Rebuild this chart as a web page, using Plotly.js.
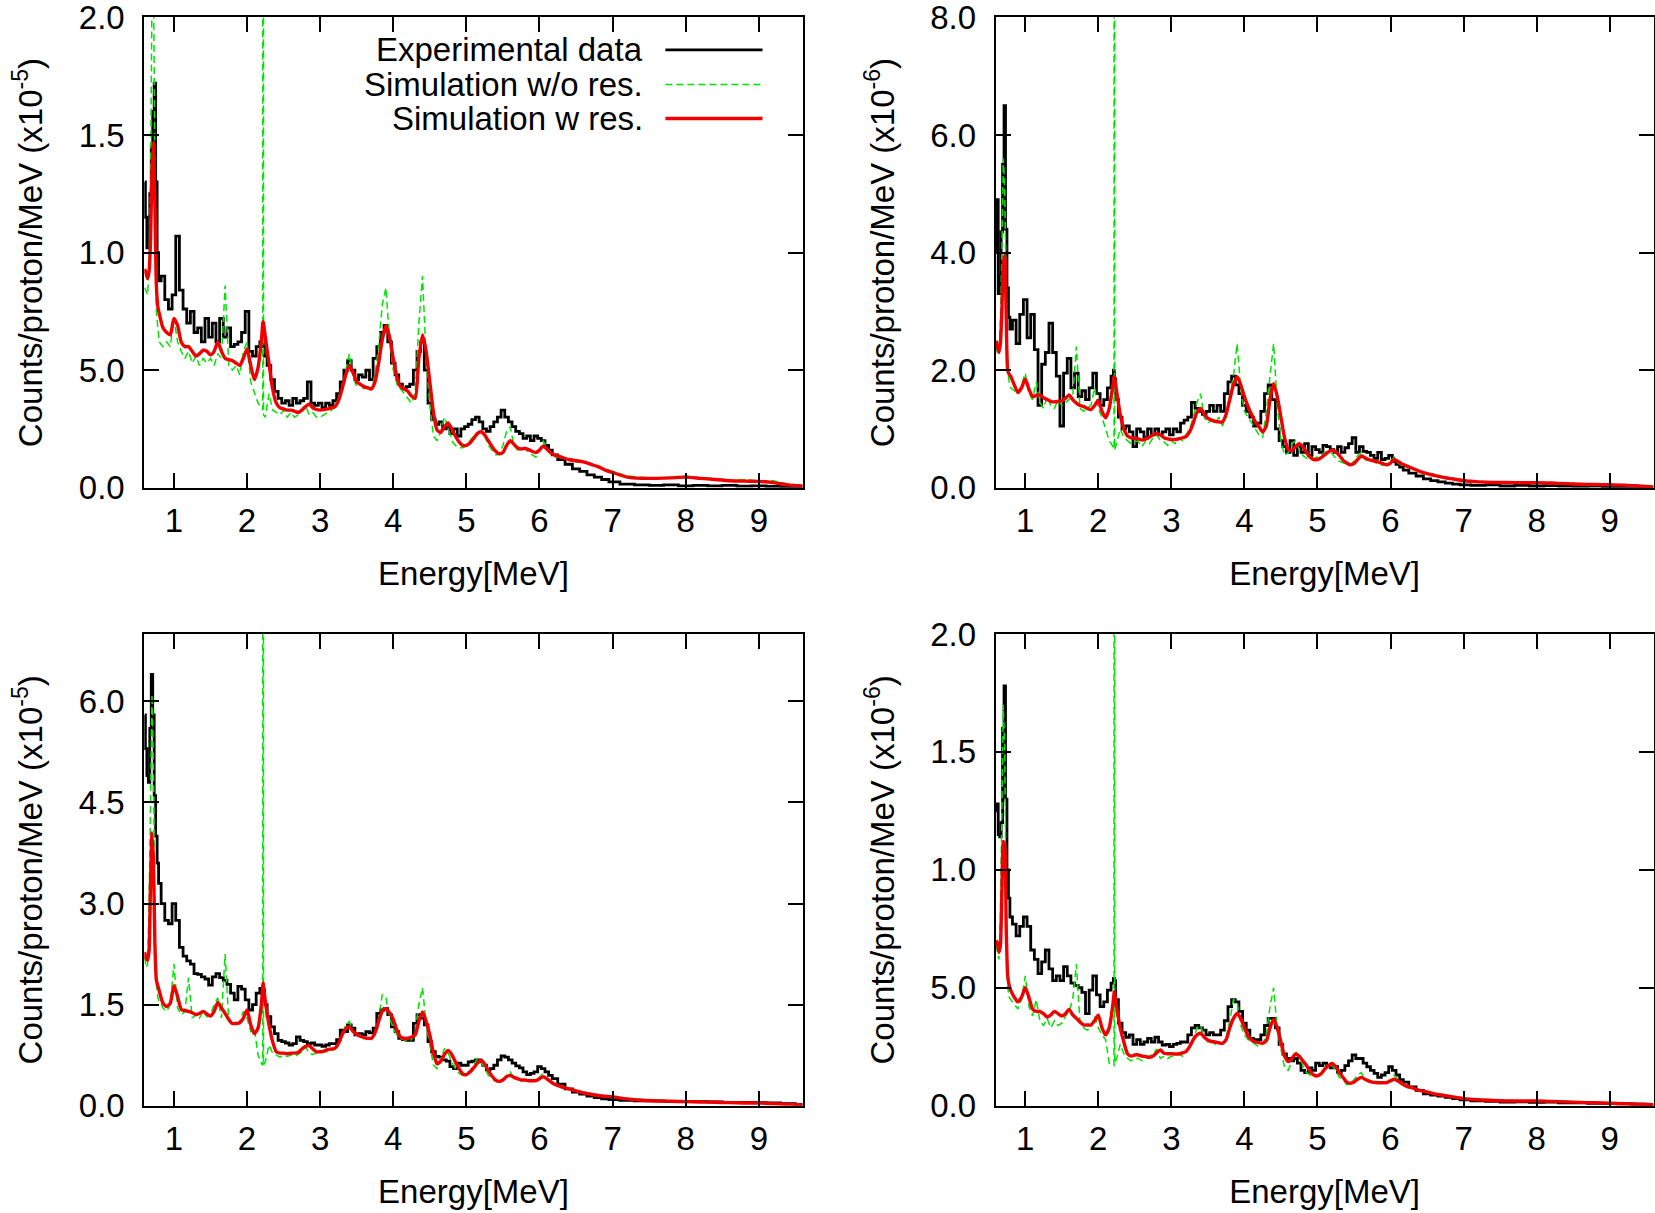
<!DOCTYPE html>
<html>
<head>
<meta charset="utf-8">
<script src="https://cdn.plot.ly/plotly-3.0.1.min.js"></script>
<style>
	html, body {margin: 0; padding: 0; background: #fff;}
	#chart {width: 1655px; height: 1213px;}
</style>
</head>
<body>
<div id="chart"></div>
<script>
// gamma energy bins (MeV), shared by every spectrum below
const energy = [
	0.60,0.62,0.64,0.66,0.68,0.70,0.72,0.74,0.76,0.78,0.80,
	0.85,0.90,0.95,1.00,1.05,1.10,1.15,1.20,1.25,1.30,
	1.35,1.40,1.45,1.50,1.55,1.60,1.65,1.70,1.75,1.80,
	1.85,1.90,1.95,2.00,2.05,2.10,2.15,2.20,2.215,2.22,2.225,2.25,2.30,
	2.35,2.40,2.45,2.50,2.55,2.60,2.65,2.70,2.75,2.80,
	2.85,2.90,2.95,3.00,3.05,3.10,3.15,3.20,3.25,3.30,
	3.35,3.40,3.45,3.50,3.55,3.60,3.65,3.70,3.75,3.80,
	3.85,3.90,3.95,4.00,4.05,4.10,4.15,4.20,4.25,4.30,
	4.35,4.40,4.45,4.50,4.55,4.60,4.65,4.70,4.75,4.80,
	4.85,4.90,4.95,5.00,5.05,5.10,5.15,5.20,5.25,5.30,
	5.35,5.40,5.45,5.50,5.55,5.60,5.65,5.70,5.75,5.80,
	5.85,5.90,5.95,6.00,6.05,6.10,6.15,6.20,
	6.3,6.4,6.5,6.6,6.7,6.8,6.9,7.0,
	7.2,7.4,7.6,7.8,8.0,8.2,8.4,8.6,8.8,9.0,9.2,9.4,9.6
];

// top left panel, units of 1e-5
const tl_exp = [
	1.30,1.15,1.02,1.05,1.25,1.45,1.60,1.72,1.30,1.00,0.88,
	0.90,0.80,0.76,0.82,1.07,0.84,0.76,0.70,0.75,0.66,
	0.68,0.62,0.72,0.64,0.70,0.62,0.72,0.64,0.68,0.60,
	0.61,0.62,0.66,0.75,0.58,0.56,0.60,0.62,0.62,0.62,0.60,0.56,0.52,
	0.46,0.41,0.38,0.36,0.37,0.35,0.38,0.36,0.37,0.38,
	0.45,0.36,0.35,0.36,0.34,0.36,0.35,0.37,0.40,0.45,
	0.50,0.54,0.50,0.46,0.48,0.47,0.50,0.46,0.55,0.60,
	0.66,0.69,0.62,0.53,0.48,0.44,0.42,0.43,0.44,0.50,
	0.58,0.62,0.50,0.36,0.29,0.27,0.28,0.25,0.26,0.23,
	0.25,0.22,0.25,0.26,0.27,0.29,0.30,0.28,0.25,0.24,
	0.26,0.28,0.30,0.33,0.30,0.28,0.26,0.24,0.23,0.21,
	0.22,0.20,0.22,0.21,0.20,0.18,0.16,0.14,
	0.12,0.10,0.08,0.07,0.055,0.045,0.035,0.025,
	0.015,0.012,0.01,0.012,0.008,0.01,0.008,0.01,0.007,0.008,0.006,0.005,0.004
];
const tl_sim_no_res = [
	0.85,0.83,0.82,0.95,1.30,2.10,2.20,1.30,0.75,0.68,0.62,
	0.60,0.62,0.60,0.72,0.62,0.58,0.55,0.58,0.53,0.56,
	0.52,0.55,0.53,0.55,0.52,0.57,0.55,0.86,0.52,0.50,
	0.52,0.48,0.58,0.62,0.45,0.40,0.36,0.34,0.33,100,0.31,0.30,0.40,
	0.33,0.32,0.31,0.33,0.30,0.32,0.30,0.31,0.33,0.35,
	0.31,0.32,0.30,0.30,0.31,0.32,0.33,0.34,0.38,0.42,
	0.50,0.57,0.47,0.43,0.44,0.42,0.43,0.42,0.48,0.60,
	0.78,0.85,0.62,0.50,0.44,0.42,0.40,0.38,0.36,0.40,
	0.70,0.90,0.55,0.35,0.22,0.20,0.24,0.30,0.26,0.20,
	0.18,0.17,0.17,0.18,0.20,0.22,0.23,0.24,0.22,0.18,
	0.16,0.14,0.14,0.18,0.24,0.26,0.18,0.16,0.16,0.17,
	0.15,0.14,0.13,0.16,0.20,0.17,0.15,0.13,
	0.13,0.12,0.11,0.11,0.10,0.09,0.08,0.07,
	0.05,0.045,0.04,0.045,0.05,0.04,0.04,0.03,0.035,0.03,0.03,0.015,0.01
];
const tl_sim_res = [
	0.93,0.91,0.89,0.92,1.05,1.35,1.47,1.20,0.86,0.77,0.74,
	0.68,0.66,0.65,0.72,0.69,0.62,0.60,0.60,0.58,0.56,
	0.57,0.585,0.58,0.565,0.58,0.62,0.58,0.55,0.545,0.54,
	0.53,0.52,0.55,0.59,0.52,0.46,0.51,0.64,0.70,0.706,0.70,0.64,0.53,
	0.42,0.36,0.34,0.335,0.33,0.33,0.325,0.32,0.33,0.345,
	0.356,0.34,0.333,0.33,0.332,0.335,0.34,0.344,0.37,0.42,
	0.48,0.52,0.49,0.45,0.44,0.43,0.425,0.42,0.45,0.53,
	0.63,0.69,0.64,0.55,0.47,0.43,0.42,0.41,0.39,0.38,
	0.55,0.65,0.58,0.45,0.32,0.245,0.235,0.26,0.276,0.25,
	0.22,0.195,0.18,0.18,0.19,0.21,0.23,0.238,0.225,0.20,
	0.175,0.155,0.145,0.15,0.18,0.20,0.185,0.17,0.165,0.167,
	0.162,0.155,0.15,0.16,0.177,0.165,0.15,0.14,
	0.13,0.12,0.115,0.11,0.10,0.09,0.075,0.065,
	0.045,0.04,0.04,0.042,0.045,0.04,0.035,0.03,0.028,0.027,0.022,0.012,0.008
];

// top right panel, units of 1e-6
const tr_exp = [
	4.00,4.90,3.30,3.60,4.35,5.50,6.50,4.40,3.40,2.90,2.70,
	2.85,2.45,2.95,3.20,2.55,2.95,2.35,1.40,2.10,2.30,
	2.80,2.30,1.90,1.05,1.95,2.20,1.70,1.95,1.55,1.65,
	1.50,1.70,1.95,1.60,1.40,1.50,1.70,1.90,2.00,1.95,1.85,1.50,1.20,
	1.00,1.05,0.95,0.70,1.00,0.95,0.85,1.00,0.90,1.00,
	0.90,0.95,1.00,0.90,1.00,0.95,1.10,1.15,1.20,1.45,
	1.35,1.30,1.25,1.30,1.40,1.30,1.40,1.30,1.60,1.80,
	1.90,1.75,1.60,1.40,1.30,1.20,1.05,1.10,1.30,1.60,
	1.75,1.50,1.00,0.80,0.70,0.60,0.80,0.55,0.70,0.60,
	0.75,0.55,0.70,0.65,0.60,0.72,0.70,0.65,0.60,0.70,
	0.60,0.68,0.75,0.85,0.60,0.70,0.62,0.60,0.55,0.50,
	0.60,0.48,0.50,0.55,0.45,0.40,0.35,0.30,
	0.25,0.20,0.15,0.12,0.10,0.08,0.06,0.05,
	0.04,0.05,0.03,0.04,0.03,0.035,0.03,0.025,0.03,0.02,0.02,0.015,0.01
];
const tr_sim_no_res = [
	2.40,2.30,2.35,2.80,4.00,5.60,5.00,3.00,2.00,1.80,1.70,
	1.65,1.60,1.75,1.95,1.60,1.50,1.80,1.45,1.35,1.55,
	1.40,1.35,1.50,1.40,1.45,1.50,1.55,2.40,1.35,1.30,
	1.35,1.40,1.70,1.35,1.20,1.00,0.80,0.70,0.65,100,0.65,0.75,1.00,
	0.85,0.80,0.75,0.80,0.78,0.70,0.80,0.75,0.85,0.90,
	0.80,0.78,0.72,0.80,0.75,0.85,0.80,0.90,1.00,1.20,
	1.45,1.60,1.20,1.10,1.15,1.10,1.20,1.05,1.20,1.60,
	1.90,2.45,1.70,1.30,1.20,1.10,1.00,0.90,0.85,1.30,
	1.90,2.45,1.40,0.80,0.55,0.60,0.75,0.80,0.65,0.55,
	0.50,0.48,0.50,0.52,0.55,0.60,0.62,0.58,0.50,0.45,
	0.42,0.40,0.40,0.45,0.55,0.60,0.48,0.45,0.48,0.42,
	0.40,0.38,0.42,0.45,0.52,0.42,0.38,0.35,
	0.33,0.28,0.25,0.22,0.19,0.17,0.15,0.13,
	0.11,0.10,0.09,0.10,0.09,0.08,0.08,0.07,0.06,0.06,0.05,0.04,0.02
];
const tr_sim_res = [
	2.50,2.40,2.30,2.45,3.00,3.80,3.95,2.90,2.00,1.93,1.90,
	1.75,1.62,1.70,1.85,1.68,1.55,1.57,1.58,1.53,1.50,
	1.47,1.46,1.47,1.48,1.52,1.58,1.50,1.44,1.40,1.38,
	1.35,1.33,1.40,1.49,1.30,1.19,1.35,1.75,1.88,1.89,1.87,1.65,1.25,
	1.00,0.88,0.85,0.84,0.83,0.81,0.83,0.86,0.90,0.92,
	0.90,0.85,0.83,0.82,0.82,0.83,0.85,0.87,0.95,1.10,
	1.28,1.35,1.25,1.18,1.15,1.13,1.12,1.12,1.25,1.50,
	1.75,1.89,1.75,1.55,1.38,1.24,1.12,1.04,0.95,1.05,
	1.50,1.77,1.55,1.20,0.85,0.65,0.63,0.70,0.75,0.70,
	0.60,0.52,0.48,0.48,0.51,0.56,0.61,0.64,0.61,0.55,
	0.47,0.42,0.39,0.41,0.48,0.54,0.51,0.48,0.46,0.45,
	0.43,0.41,0.39,0.42,0.48,0.45,0.41,0.38,
	0.33,0.28,0.24,0.21,0.18,0.16,0.14,0.12,
	0.10,0.09,0.09,0.085,0.085,0.08,0.07,0.06,0.055,0.05,0.045,0.03,0.015
];

// bottom left panel, units of 1e-5
const bl_exp = [
	5.80,5.30,4.90,4.80,5.60,6.40,5.80,4.60,4.00,3.60,3.30,
	3.00,2.75,2.70,3.00,2.75,2.35,2.22,2.15,2.10,1.96,
	1.95,1.91,1.88,1.79,1.91,1.96,1.90,1.86,1.80,1.67,
	1.57,1.77,1.73,1.57,1.42,1.50,1.67,1.74,1.74,1.74,1.72,1.50,1.32,
	1.17,1.07,0.97,0.95,0.93,0.90,0.92,1.02,0.97,0.95,
	0.92,0.93,0.90,0.90,0.88,0.90,0.92,0.92,0.98,1.12,
	1.10,1.20,1.15,1.05,1.07,1.05,1.10,1.08,1.15,1.37,
	1.42,1.44,1.35,1.17,1.10,1.00,0.98,0.97,0.97,1.22,
	1.35,1.30,1.20,0.95,0.80,0.73,0.72,0.68,0.66,0.58,
	0.55,0.63,0.60,0.60,0.65,0.66,0.68,0.65,0.60,0.53,
	0.55,0.60,0.68,0.74,0.72,0.68,0.63,0.59,0.56,0.50,
	0.46,0.48,0.50,0.58,0.55,0.50,0.45,0.40,
	0.32,0.25,0.20,0.17,0.14,0.12,0.10,0.09,
	0.08,0.07,0.07,0.065,0.06,0.06,0.055,0.05,0.05,0.045,0.04,0.03,0.02
];
const bl_sim_no_res = [
	2.20,2.05,2.10,3.00,4.50,6.10,5.00,2.60,1.80,1.60,1.55,
	1.45,1.40,1.50,2.10,1.45,1.35,1.40,1.90,1.30,1.35,
	1.30,1.40,1.32,1.35,1.50,1.60,1.30,2.25,1.25,1.20,
	1.20,1.25,1.40,1.30,1.10,1.15,0.75,0.62,0.60,100,0.60,0.65,0.90,
	0.78,0.75,0.72,0.75,0.73,0.75,0.73,0.76,0.80,0.87,
	0.78,0.76,0.78,0.77,0.80,0.80,0.82,0.84,0.90,1.05,
	1.20,1.25,1.10,1.03,1.05,1.00,1.02,0.98,1.08,1.30,
	1.65,1.60,1.30,1.15,1.05,1.00,0.98,0.95,0.98,1.10,
	1.50,1.75,1.20,0.90,0.60,0.55,0.70,0.85,0.78,0.65,
	0.55,0.48,0.45,0.48,0.52,0.60,0.70,0.66,0.56,0.45,
	0.40,0.36,0.35,0.40,0.45,0.50,0.42,0.38,0.38,0.36,
	0.37,0.36,0.36,0.42,0.48,0.40,0.35,0.32,
	0.28,0.25,0.22,0.20,0.18,0.16,0.14,0.13,
	0.10,0.09,0.08,0.07,0.065,0.06,0.05,0.05,0.045,0.04,0.03,0.02,0.01
];
const bl_sim_res = [
	2.28,2.18,2.16,2.30,3.30,4.05,3.60,2.40,1.86,1.78,1.70,
	1.52,1.47,1.52,1.78,1.62,1.43,1.41,1.40,1.38,1.35,
	1.37,1.40,1.36,1.33,1.40,1.53,1.45,1.37,1.28,1.22,
	1.22,1.23,1.30,1.42,1.20,1.07,1.15,1.55,1.78,1.82,1.78,1.55,1.20,
	0.95,0.80,0.78,0.78,0.77,0.78,0.78,0.79,0.84,0.88,
	0.89,0.84,0.80,0.80,0.81,0.83,0.84,0.85,0.92,1.05,
	1.14,1.17,1.10,1.06,1.03,1.01,1.00,1.00,1.08,1.25,
	1.40,1.44,1.38,1.28,1.12,1.02,1.00,1.00,1.02,1.05,
	1.25,1.39,1.25,1.05,0.78,0.62,0.66,0.76,0.82,0.76,
	0.65,0.55,0.47,0.46,0.50,0.56,0.63,0.68,0.62,0.52,
	0.44,0.38,0.36,0.38,0.43,0.45,0.42,0.40,0.38,0.38,
	0.37,0.37,0.37,0.40,0.43,0.40,0.36,0.32,
	0.28,0.25,0.22,0.19,0.17,0.15,0.14,0.13,
	0.10,0.08,0.07,0.065,0.06,0.055,0.05,0.045,0.04,0.04,0.03,0.02,0.01
];

// bottom right panel, units of 1e-6
const br_exp = [
	1.25,1.28,1.15,1.14,1.20,1.60,1.78,1.30,1.00,0.88,0.80,
	0.77,0.72,0.76,0.80,0.76,0.66,0.62,0.56,0.61,0.66,
	0.58,0.53,0.55,0.53,0.59,0.55,0.52,0.51,0.50,0.48,
	0.39,0.49,0.55,0.47,0.42,0.44,0.49,0.52,0.54,0.54,0.53,0.45,0.35,
	0.31,0.29,0.30,0.26,0.28,0.26,0.27,0.285,0.27,0.29,
	0.27,0.257,0.26,0.25,0.26,0.264,0.27,0.27,0.30,0.33,
	0.34,0.33,0.32,0.30,0.31,0.30,0.30,0.32,0.36,0.42,
	0.45,0.44,0.40,0.35,0.32,0.285,0.28,0.28,0.30,0.34,
	0.37,0.37,0.33,0.26,0.22,0.20,0.19,0.20,0.18,0.15,
	0.14,0.16,0.15,0.18,0.17,0.18,0.17,0.16,0.165,0.14,
	0.15,0.17,0.19,0.215,0.20,0.20,0.18,0.165,0.15,0.137,
	0.12,0.13,0.14,0.165,0.15,0.13,0.11,0.10,
	0.08,0.065,0.05,0.045,0.04,0.035,0.03,0.025,
	0.02,0.018,0.015,0.016,0.014,0.015,0.012,0.012,0.01,0.01,0.008,0.006,0.004
];
const br_sim_no_res = [
	0.68,0.65,0.62,0.80,1.20,1.70,1.50,0.80,0.50,0.46,0.45,
	0.43,0.41,0.45,0.55,0.42,0.38,0.45,0.36,0.34,0.37,
	0.33,0.36,0.34,0.35,0.38,0.40,0.45,0.60,0.35,0.33,
	0.32,0.33,0.38,0.33,0.30,0.28,0.18,0.17,0.17,100,0.18,0.20,0.26,
	0.22,0.20,0.19,0.20,0.20,0.19,0.20,0.21,0.22,0.24,
	0.20,0.21,0.20,0.21,0.21,0.22,0.21,0.23,0.25,0.28,
	0.33,0.34,0.29,0.27,0.28,0.26,0.27,0.26,0.29,0.36,
	0.45,0.44,0.34,0.30,0.28,0.27,0.26,0.25,0.26,0.30,
	0.42,0.50,0.32,0.24,0.16,0.15,0.19,0.23,0.21,0.17,
	0.14,0.13,0.12,0.13,0.14,0.16,0.18,0.17,0.15,0.12,
	0.11,0.09,0.09,0.11,0.13,0.14,0.11,0.10,0.10,0.095,
	0.10,0.09,0.10,0.11,0.13,0.11,0.09,0.085,
	0.075,0.065,0.06,0.05,0.045,0.04,0.035,0.03,
	0.028,0.025,0.022,0.02,0.022,0.02,0.018,0.016,0.014,0.012,0.01,0.008,0.005
];
const br_sim_res = [
	0.70,0.69,0.65,0.68,0.90,1.12,1.10,0.75,0.55,0.51,0.49,
	0.46,0.44,0.46,0.50,0.46,0.41,0.40,0.40,0.39,0.375,
	0.385,0.40,0.39,0.38,0.39,0.408,0.385,0.37,0.355,0.342,
	0.342,0.342,0.36,0.384,0.33,0.30,0.33,0.43,0.475,0.483,0.475,0.42,0.33,
	0.27,0.22,0.21,0.215,0.215,0.21,0.208,0.205,0.21,0.225,
	0.236,0.222,0.22,0.22,0.219,0.219,0.224,0.229,0.25,0.28,
	0.30,0.307,0.29,0.278,0.272,0.27,0.266,0.264,0.28,0.33,
	0.37,0.391,0.37,0.33,0.295,0.278,0.27,0.267,0.265,0.275,
	0.33,0.366,0.33,0.27,0.21,0.187,0.20,0.219,0.21,0.19,
	0.17,0.145,0.13,0.126,0.135,0.155,0.17,0.179,0.165,0.14,
	0.12,0.10,0.095,0.10,0.112,0.12,0.112,0.105,0.10,0.098,
	0.097,0.097,0.098,0.105,0.112,0.105,0.095,0.085,
	0.075,0.065,0.058,0.05,0.045,0.04,0.035,0.03,
	0.025,0.022,0.02,0.02,0.02,0.018,0.016,0.014,0.012,0.01,0.008,0.006,0.004
];

// axis ticks
const energy_ticks = [1, 2, 3, 4, 5, 6, 7, 8, 9];
const tl_ticks = [0, 0.5, 1.0, 1.5, 2.0];
const tl_tick_labels = ["0.0", "5.0", "1.0", "1.5", "2.0"];
const tr_ticks = [0, 2, 4, 6, 8];
const tr_tick_labels = ["0.0", "2.0", "4.0", "6.0", "8.0"];
const bl_ticks = [0, 1.5, 3.0, 4.5, 6.0];
const bl_tick_labels = ["0.0", "1.5", "3.0", "4.5", "6.0"];
const br_ticks = [0, 0.5, 1.0, 1.5, 2.0];
const br_tick_labels = ["0.0", "5.0", "1.0", "1.5", "2.0"];

const series_names = ["Experimental data", "Simulation w/o res.", "Simulation w res."];

const font_family = "Liberation Sans, Arial, Helvetica, sans-serif";
const black = "#000000";
const green = "#00e400";
const red = "#f00000";

const panels = [
	{x: "x", y: "y", exp: tl_exp, no_res: tl_sim_no_res, res: tl_sim_res},
	{x: "x2", y: "y2", exp: tr_exp, no_res: tr_sim_no_res, res: tr_sim_res},
	{x: "x3", y: "y3", exp: bl_exp, no_res: bl_sim_no_res, res: bl_sim_res},
	{x: "x4", y: "y4", exp: br_exp, no_res: br_sim_no_res, res: br_sim_res}
];

let chart_data = [];
for (const p of panels) {
	chart_data.push({
		name: series_names[0], x: energy, y: p.exp, xaxis: p.x, yaxis: p.y,
		mode: "lines", line: {color: black, width: 2.8, shape: "hvh"}
	});
	chart_data.push({
		name: series_names[1], x: energy, y: p.no_res, xaxis: p.x, yaxis: p.y,
		mode: "lines", line: {color: green, width: 1.5, dash: "7px,4px"}
	});
	chart_data.push({
		name: series_names[2], x: energy, y: p.res, xaxis: p.x, yaxis: p.y,
		mode: "lines", line: {color: red, width: 3.4, shape: "spline", smoothing: 0.6}
	});
}

function _get_x_axis_layout(domain, anchor) {
	return {
		domain: domain,
		anchor: anchor,
		range: [0.595, 9.6],
		tickvals: energy_ticks,
		ticks: "inside",
		ticklen: 15,
		tickwidth: 2,
		tickcolor: black,
		showline: true,
		linewidth: 2,
		linecolor: black,
		mirror: "ticks",
		showgrid: false,
		zeroline: false,
		ticklabelstandoff: 3,
		ticklabeloverflow: "allow",
		tickfont: {size: 33, color: black},
		title: {text: "Energy[MeV]", font: {size: 33, color: black}, standoff: 24}
	};
}

function _get_y_axis_layout(domain, anchor, range, ticks, labels, power) {
	return {
		domain: domain,
		anchor: anchor,
		range: range,
		tickvals: ticks,
		ticktext: labels,
		ticks: "inside",
		ticklen: 15,
		tickwidth: 2,
		tickcolor: black,
		showline: true,
		linewidth: 2,
		linecolor: black,
		mirror: "ticks",
		showgrid: false,
		zeroline: false,
		ticklabelstandoff: 11,
		ticklabeloverflow: "allow",
		tickfont: {size: 33, color: black},
		title: {text: `Counts/proton/MeV (x10<sup>${power}</sup>)`, font: {size: 33, color: black}, standoff: 26}
	};
}

const left_cols = [0.0872, 0.4850];
const right_cols = [0.6016, 0.9991];
const top_row = [0.5979, 0.9857];
const bottom_row = [0.0885, 0.4773];

// legend drawn gnuplot-style: text right aligned, sample line on its right
const legend_rows = [0.931, 0.857, 0.785];
const legend_styles = [
	{color: black, width: 2.8, dash: "solid"},
	{color: green, width: 1.5, dash: "7px,4px"},
	{color: red, width: 3.4, dash: "solid"}
];
const annotations = series_names.map((name, i) => ({
	text: name, xref: "x domain", yref: "y domain", x: 0.76, y: legend_rows[i],
	xanchor: "right", yanchor: "middle", showarrow: false,
	font: {size: 33, color: black, family: font_family}
}));
const shapes = series_names.map((name, i) => ({
	type: "line", xref: "x domain", yref: "y domain",
	x0: 0.7915, x1: 0.939, y0: legend_rows[i], y1: legend_rows[i],
	line: legend_styles[i]
}));

const chart_layout = {
	width: 1655,
	height: 1213,
	margin: {l: 0, r: 0, t: 0, b: 0},
	paper_bgcolor: "#ffffff",
	plot_bgcolor: "#ffffff",
	showlegend: false,
	font: {family: font_family, size: 33, color: black},
	xaxis: _get_x_axis_layout(left_cols, "y"),
	yaxis: _get_y_axis_layout(top_row, "x", [0, 2.0], tl_ticks, tl_tick_labels, "-5"),
	xaxis2: _get_x_axis_layout(right_cols, "y2"),
	yaxis2: _get_y_axis_layout(top_row, "x2", [0, 8.0], tr_ticks, tr_tick_labels, "-6"),
	xaxis3: _get_x_axis_layout(left_cols, "y3"),
	yaxis3: _get_y_axis_layout(bottom_row, "x3", [0, 7.0], bl_ticks, bl_tick_labels, "-5"),
	xaxis4: _get_x_axis_layout(right_cols, "y4"),
	yaxis4: _get_y_axis_layout(bottom_row, "x4", [0, 2.0], br_ticks, br_tick_labels, "-6"),
	annotations: annotations,
	shapes: shapes
};

Plotly.newPlot("chart", chart_data, chart_layout, {displayModeBar: false, staticPlot: true});
</script>
</body>
</html>
